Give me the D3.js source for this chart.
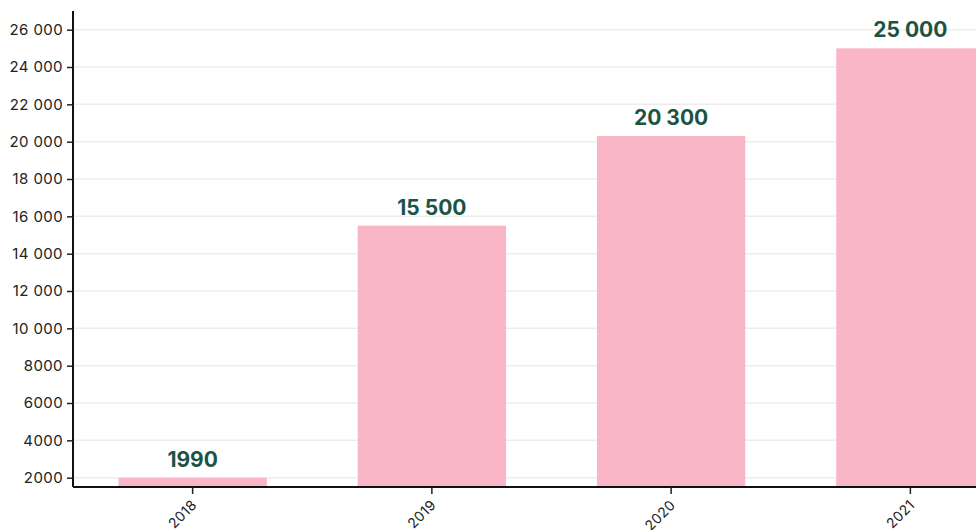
<!DOCTYPE html>
<html>
<head>
<meta charset="utf-8">
<script src="https://cdn.jsdelivr.net/npm/d3@7"></script>
<style>
  html, body { margin: 0; padding: 0; background: #fff; overflow: hidden; }
  svg { display: block; font-family: Inter, "Noto Sans", sans-serif; }
</style>
</head>
<body>
<svg id="chart" width="976" height="530"></svg>
<script>
// Yearly totals
const years = ["2018", "2019", "2020", "2021"];
const values = [1990, 15500, 20300, 25000];
const yTicks = [2000, 4000, 6000, 8000, 10000, 12000, 14000, 16000, 18000, 20000, 22000, 24000, 26000];
const yDomain = [1500, 27000];

const svg = d3.select("#chart");
const margin = { left: 73, top: 11, bottom: 487 };
const plotRight = 1030;

const x = d3.scaleBand()
  .domain(years)
  .range([margin.left, plotRight])
  .paddingInner(0.38)
  .paddingOuter(0.19);

const y = d3.scaleLinear()
  .domain(yDomain)
  .range([margin.bottom, margin.top]);

// Thousands grouped with a space from five digits up
const fmt = v => v >= 10000 ? d3.format(",")(v).replace(/,/g, " ") : String(v);

// Horizontal gridlines
svg.append("g")
  .selectAll("line")
  .data(yTicks)
  .join("line")
  .attr("x1", margin.left)
  .attr("x2", 976)
  .attr("y1", d => y(d))
  .attr("y2", d => y(d))
  .attr("stroke", "#ededed")
  .attr("stroke-width", 1.5);

// Bars
svg.append("g")
  .selectAll("rect")
  .data(years)
  .join("rect")
  .attr("x", d => x(d))
  .attr("width", x.bandwidth())
  .attr("y", (d, i) => y(values[i]))
  .attr("height", (d, i) => y(yDomain[0]) - y(values[i]))
  .attr("fill", "#f8b6c6");

// Value labels
svg.append("g")
  .selectAll("text")
  .data(years)
  .join("text")
  .attr("x", d => x(d) + x.bandwidth() / 2)
  .attr("y", (d, i) => y(values[i]) - 11)
  .attr("text-anchor", "middle")
  .attr("font-size", 21)
  .attr("font-weight", 700)
  .attr("fill", "#1c5444")
  .text((d, i) => fmt(values[i]));

// Y axis
const yAxis = svg.append("g")
  .attr("transform", `translate(${margin.left},0)`)
  .call(d3.axisLeft(y).tickValues(yTicks).tickFormat(fmt).tickSize(6).tickPadding(4));
yAxis.select(".domain").attr("stroke", "#111").attr("stroke-width", 2)
  .attr("d", `M0,${margin.top}V${margin.bottom}`);
yAxis.selectAll(".tick line").attr("stroke", "#222").attr("stroke-width", 1.5);
yAxis.selectAll(".tick text").attr("font-size", 15).attr("fill", "#222")
  .attr("letter-spacing", 0.4)
  .attr("font-family", "Inter, sans-serif");

// X axis
const xAxis = svg.append("g")
  .attr("transform", `translate(0,${margin.bottom})`)
  .call(d3.axisBottom(x).tickSize(7).tickPadding(4));
xAxis.select(".domain").attr("stroke", "#111").attr("stroke-width", 2)
  .attr("d", `M${margin.left},0H${plotRight}`);
xAxis.selectAll(".tick line").attr("stroke", "#222").attr("stroke-width", 1.5);
xAxis.selectAll(".tick text")
  .attr("font-size", 14)
  .attr("fill", "#222")
  .attr("letter-spacing", 0.3)
  .attr("font-family", "Inter, sans-serif")
  .attr("text-anchor", "end")
  .attr("y", 0)
  .attr("dy", 0)
  .attr("transform", "translate(5,19) rotate(-45)");
</script>
</body>
</html>
